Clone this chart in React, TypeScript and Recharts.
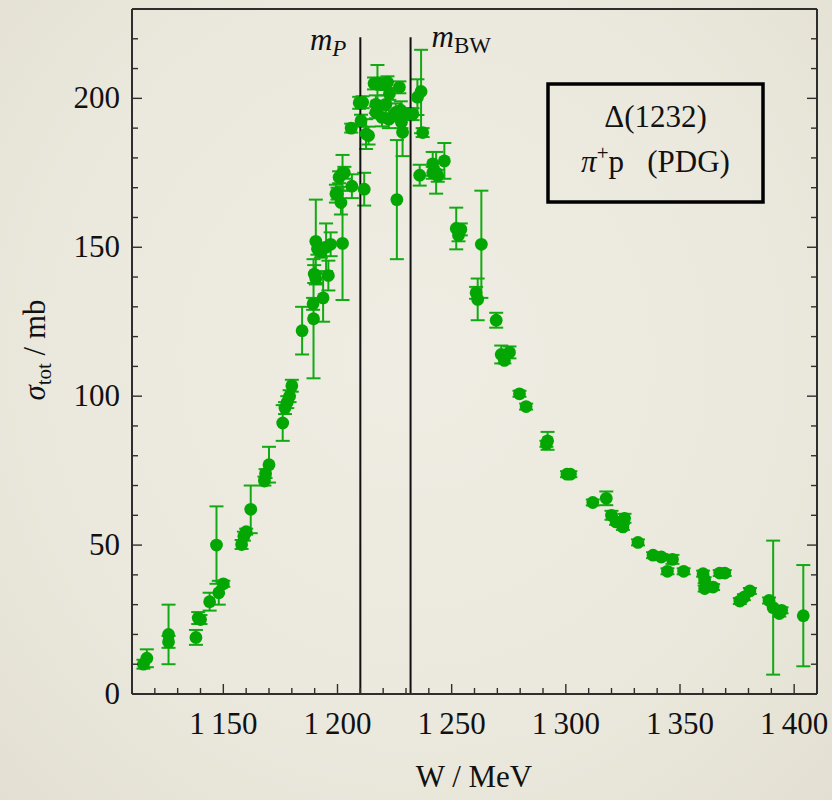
import React from 'react';
import { ScatterChart, Scatter, XAxis, YAxis, ErrorBar, ReferenceLine } from 'recharts';

// pi+ p total cross section around the Delta(1232)
const energy = [
  1115, 1116.5, 1126, 1126, 1138, 1139, 1140, 1144, 1147, 1148, 1150, 1158, 1159, 1160, 1162,
  1168, 1168.5, 1170, 1176, 1177, 1178, 1179, 1180, 1184.5, 1189.3, 1189.5, 1189.8, 1190.5,
  1190.5, 1191.2, 1192.7, 1193.7, 1195, 1196, 1197, 1199.3, 1200, 1200.7, 1201.5, 1202.2,
  1202.2, 1203, 1206, 1206.3, 1209.5, 1210.3, 1211, 1211.7, 1212.5, 1213.6, 1216, 1216.8,
  1216.8, 1217.5, 1219.5, 1219.7, 1221.2, 1221.9, 1222.5, 1222.7, 1225.5, 1226, 1227.1,
  1227.7, 1228, 1228.5, 1230.7, 1232.9, 1235, 1236, 1236.6, 1237.3, 1241.7, 1241.7, 1243.2,
  1243.9, 1246.8, 1252, 1253, 1254, 1260.7, 1261.4, 1263, 1269.5, 1271.7, 1273.1, 1275.3,
  1279.7, 1282.6, 1291.5, 1292, 1300.5, 1302, 1311.8, 1317.7, 1320, 1322, 1325, 1325.7,
  1331.6, 1338.2, 1341.8, 1344.5, 1346.7, 1351.6, 1360.1, 1360.8, 1360.8, 1364.5, 1367.4,
  1369.6, 1376.2, 1378, 1380.6, 1389, 1390.8, 1393.5, 1394.5, 1404,
];
const sigma = [
  10, 12, 20, 17.5, 19, 25.5, 25, 31, 50, 34, 37, 50.2, 53, 54.5, 62,
  71.5, 74, 77, 91, 96, 98, 100, 103.5, 122, 131, 126, 141, 139.5,
  152, 149.5, 148.5, 133, 150, 140.5, 151, 168, 168, 173.5, 165, 151.3,
  175, 175, 190, 170.5, 198.5, 192.5, 198.7, 169.5, 188, 187.5, 205, 198,
  195.3, 205.2, 193.6, 204.8, 198, 205.4, 193, 201.5, 195.3, 166, 203.7,
  196, 192, 188.6, 194.7, 194.7, 200.4, 174.2, 202.3, 188.5, 175, 178, 175,
  174, 179, 156.3, 154, 156, 134.7, 132.5, 151, 125.5, 114, 112, 114.7,
  100.8, 96.5, 84, 85, 73.8, 73.8, 64.3, 65.7, 60, 57.8, 56.1, 59,
  50.9, 46.6, 46, 41.2, 45.2, 41.2, 40.4, 38.2, 35.4, 35.9, 40.6,
  40.6, 31.2, 32.5, 34.6, 31.4, 29, 27, 28.1, 26.3,
];
const sigmaErr = [
  1.5, 3, 10, 2, 2.5, 2, 1.5, 3, 13, 4, 1, 1.5, 1.5, 1, 8,
  1.5, 1.5, 6, 6, 2, 2, 2, 2, 8, 2, 20, 3, 2,
  14, 2, 2, 8, 8, 5, 4, 3, 2, 2, 4, 19,
  6, 2, 1.5, 4, 2, 2, 2, 5.5, 5, 3, 2, 3,
  2, 6, 3, 2, 3, 2, 3, 2, 3, 20, 2,
  3, 2, 8, 2, 2, 6, 3.5, 14, 1.5, 2, 4, 7,
  2, 6, 7, 2, 2, 2, 7, 18, 2.5, 3, 1, 2,
  1, 1, 1, 3, 1, 1, 1, 2.3, 1.5, 1, 1, 1.5,
  1, 1, 1, 1, 1.5, 1, 1, 1, 1, 1, 1,
  1, 1, 1, 1, 1, 22.5, 1, 1, 17,
];

const xTicks = [
  1120, 1130, 1140, 1150, 1160, 1170, 1180, 1190, 1200, 1210, 1220, 1230, 1240, 1250, 1260,
  1270, 1280, 1290, 1300, 1310, 1320, 1330, 1340, 1350, 1360, 1370, 1380, 1390, 1400,
];
const yTicks = [0, 10, 20, 30, 40, 50, 60, 70, 80, 90, 100, 110, 120, 130, 140, 150, 160, 170, 180, 190, 200, 210, 220];
const xLabelTicks = [1150, 1200, 1250, 1300, 1350, 1400];
const yLabelTicks = [0, 50, 100, 150, 200];

const mPole = 1210;
const mBreitWigner = 1232;

const points = energy.map((w, i) => ({ w, s: sigma[i], err: sigmaErr[i] }));

const serif = 'Liberation Serif, Tinos, DejaVu Serif, serif';
const font = { fontFamily: serif };
const INK = '#2e2e2e';
const GREEN = '#03a603';

const fmtW = (v: number) => String(v).replace(/^(\d)(\d{3})$/, '$1\u2009$2');

function BottomTick(props: any) {
  const { x, y, payload } = props;
  const v = payload.value;
  const major = xLabelTicks.includes(v);
  return (
    <g>
      <line x1={x} x2={x} y1={y} y2={y - (major ? 10 : 6)} stroke={INK} strokeWidth={1.4} />
      {major && (
        <text x={x} y={y + 40} textAnchor="middle" style={font} fontSize={31} fill="#111">
          {fmtW(v)}
        </text>
      )}
    </g>
  );
}

function TopTick(props: any) {
  const { x, y, payload } = props;
  const major = xLabelTicks.includes(payload.value);
  return <line x1={x} x2={x} y1={y} y2={y + (major ? 10 : 6)} stroke={INK} strokeWidth={1.4} />;
}

function LeftTick(props: any) {
  const { x, y, payload } = props;
  const v = payload.value;
  const major = yLabelTicks.includes(v);
  return (
    <g>
      <line x1={x} x2={x + (major ? 10 : 6)} y1={y} y2={y} stroke={INK} strokeWidth={1.4} />
      {major && (
        <text x={x - 12} y={y + 10} textAnchor="end" style={font} fontSize={31} fill="#111">
          {v}
        </text>
      )}
    </g>
  );
}

function RightTick(props: any) {
  const { x, y, payload } = props;
  const major = yLabelTicks.includes(payload.value);
  return <line x1={x} x2={x - (major ? 10 : 6)} y1={y} y2={y} stroke={INK} strokeWidth={1.4} />;
}

function MassLabel(props: any) {
  const { viewBox, sub, left } = props;
  const x = viewBox.x;
  return (
    <text
      x={left ? x - 14 : x + 21}
      y={left ? 50 : 47}
      textAnchor={left ? 'end' : 'start'}
      style={font}
      fontSize={31}
      fill="#111"
    >
      <tspan fontStyle="italic">m</tspan>
      <tspan fontSize={23} dy={6} fontStyle={left ? 'italic' : 'normal'}>
        {sub}
      </tspan>
    </text>
  );
}

const Dot = (p: any) => <circle cx={p.cx} cy={p.cy} r={6.4} fill={GREEN} />;

export default function App() {
  return (
    <div
      style={{
        position: 'relative',
        width: 832,
        height: 800,
        background: 'radial-gradient(ellipse at 50% 45%, #efede3 0%, #ebe8dd 60%, #e3e0d3 100%)',
      }}
    >
      <style>{'body{margin:0}'}</style>
      <ScatterChart width={832} height={800} margin={{ top: 0, right: 0, bottom: 0, left: 0 }}>
        <XAxis
          xAxisId="bottom"
          dataKey="w"
          type="number"
          domain={[1110, 1410]}
          ticks={xTicks}
          interval={0}
          height={106}
          tickSize={0}
          tickMargin={0}
          tick={<BottomTick />}
          axisLine={{ stroke: INK, strokeWidth: 2 }}
          allowDataOverflow
        />
        <XAxis
          xAxisId="top"
          orientation="top"
          type="number"
          domain={[1110, 1410]}
          ticks={xTicks}
          interval={0}
          height={9}
          tickSize={0}
          tickMargin={0}
          tick={<TopTick />}
          axisLine={{ stroke: INK, strokeWidth: 2 }}
          allowDataOverflow
        />
        <YAxis
          yAxisId="left"
          dataKey="s"
          type="number"
          domain={[0, 230]}
          ticks={yTicks}
          interval={0}
          width={132}
          tickSize={0}
          tickMargin={0}
          tick={<LeftTick />}
          axisLine={{ stroke: INK, strokeWidth: 2 }}
          allowDataOverflow
        />
        <YAxis
          yAxisId="right"
          orientation="right"
          type="number"
          domain={[0, 230]}
          ticks={yTicks}
          interval={0}
          width={15}
          tickSize={0}
          tickMargin={0}
          tick={<RightTick />}
          axisLine={{ stroke: INK, strokeWidth: 2 }}
          allowDataOverflow
        />
        <Scatter xAxisId="bottom" yAxisId="left" data={points} shape={Dot} isAnimationActive={false}>
          <ErrorBar dataKey="err" direction="y" width={7} stroke="#12aa12" strokeWidth={2} isAnimationActive={false} />
        </Scatter>
        <ReferenceLine
          xAxisId="bottom"
          yAxisId="left"
          segment={[{ x: mPole, y: 0 }, { x: mPole, y: 220.5 }]}
          stroke="#111"
          strokeWidth={2}
          label={<MassLabel sub="P" left />}
        />
        <ReferenceLine
          xAxisId="bottom"
          yAxisId="left"
          segment={[{ x: mBreitWigner, y: 0 }, { x: mBreitWigner, y: 220.5 }]}
          stroke="#111"
          strokeWidth={2}
          label={<MassLabel sub="BW" />}
        />
      </ScatterChart>
      <svg
        width={832}
        height={800}
        style={{ position: 'absolute', left: 0, top: 0, pointerEvents: 'none' }}
      >
        <text
          transform="translate(45,350) rotate(-90)"
          textAnchor="middle"
          style={font}
          fontSize={31}
          fill="#111"
        >
          <tspan fontStyle="italic">σ</tspan>
          <tspan fontSize={21} dy={6}>tot</tspan>
          <tspan dy={-6}> / mb</tspan>
        </text>
        <text x={474} y={787} textAnchor="middle" style={font} fontSize={31} fill="#111">
          W / MeV
        </text>
        <rect x={548} y={84} width={215} height={118} fill="none" stroke="#000" strokeWidth={3.5} />
        <text x={655.5} y={127} textAnchor="middle" style={font} fontSize={31} fill="#111">
          Δ(1232)
        </text>
        <text x={655.5} y={172} textAnchor="middle" style={font} fontSize={31} fill="#111" xmlSpace="preserve">
          <tspan fontStyle="italic">π</tspan>
          <tspan fontSize={21} dy={-12}>+</tspan>
          <tspan dy={12}>p   (PDG)</tspan>
        </text>
      </svg>
    </div>
  );
}
